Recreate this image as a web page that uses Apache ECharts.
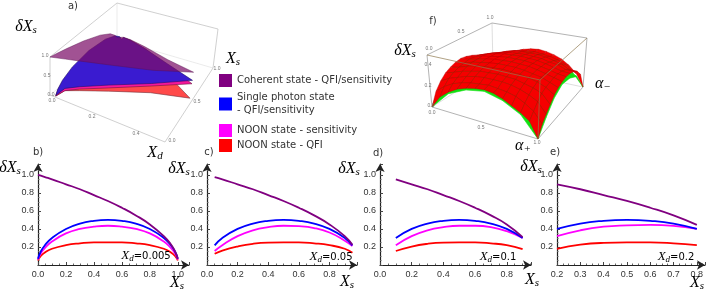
<!DOCTYPE html>
<html><head><meta charset="utf-8"><style>html,body{margin:0;padding:0;background:#fff}#c{width:708px;height:293px}</style>
<script src="https://cdn.jsdelivr.net/npm/echarts@6/dist/echarts.min.js"></script></head>
<body><div id="c"></div><script>
// ---------- panel b-e curves ----------
const names=['Coherent state - QFI/sensitivity','Single photon state\n- QFI/sensitivity','NOON state - sensitivity','NOON state - QFI'];
const colors=['#800080','#0000ff','#ff00ff','#ff0000'];
const bX=[0,.02,.05,.1,.2,.3,.4,.5,.6,.7,.8,.9,.95,.98,1];
const bCoherent=[1,.99,.975,.95,.895,.84,.775,.71,.635,.55,.45,.32,.23,.15,.07];
const bSingle=[.07,.15,.22,.3,.4,.46,.49,.5,.49,.46,.4,.3,.22,.15,.07];
const bNoonS=[.06,.13,.19,.26,.35,.4,.425,.435,.425,.4,.35,.26,.19,.13,.06];
const bNoonQ=[.05,.1,.14,.18,.22,.24,.25,.25,.25,.24,.22,.18,.14,.1,.05];
const cX=[.05,.1,.2,.3,.4,.5,.6,.7,.8,.9,.95];
const cCoherent=[.975,.95,.895,.84,.775,.71,.635,.55,.45,.32,.225];
const cSingle=[.218,.3,.4,.46,.49,.5,.49,.46,.4,.3,.218];
const cNoonS=[.155,.22,.32,.385,.42,.435,.43,.41,.36,.27,.21];
const cNoonQ=[.125,.16,.205,.235,.248,.25,.25,.24,.22,.18,.135];
const dX=[.1,.2,.3,.4,.5,.6,.7,.8,.9];
const dCoherent=[.95,.895,.84,.775,.71,.635,.55,.45,.31];
const dSingle=[.3,.4,.46,.49,.5,.49,.46,.4,.3];
const dNoonS=[.22,.32,.385,.42,.435,.435,.42,.375,.3];
const dNoonQ=[.155,.205,.235,.248,.25,.25,.24,.22,.175];
const eX=[.2,.3,.4,.5,.6,.7,.8];
const eCoherent=[.895,.84,.775,.71,.635,.55,.445];
const eSingle=[.4,.46,.49,.5,.49,.46,.4];
const eNoonS=[.32,.385,.425,.44,.445,.435,.4];
const eNoonQ=[.18,.225,.245,.25,.25,.24,.22];
const yTicks=[.2,.4,.6,.8,1];
const xTicksB=[0,.2,.4,.6,.8,1];
const xTicksC=[0,.2,.4,.6,.8];
const xTicksE=[.2,.3,.4,.5,.6,.7,.8];
// ---------- panel a surface edges: along Xd=0 (by Xs), along the low and high Xs borders (by Xd) ----------
const aXs=[0,.03,.1,.25,.5,.75,.9,.97,1];
const aXd=[0,.05,.1,.2,.35,.5];
const archCoherent=[1,.985,.95,.866,.707,.5,.316,.17,.07];
const lowCoherent=[1,.975,.949,.894,.806,.77];
const highCoherent=[.07,.224,.316,.447,.592,.77];
const archSingle=[.05,.17,.3,.433,.5,.433,.3,.17,.05];
const lowSingle=[.05,.218,.3,.4,.49,.58];
const highSingle=[.05,.218,.3,.4,.49,.58];
const archNoonS=[.04,.15,.26,.375,.435,.375,.26,.15,.04];
const lowNoonS=[.04,.16,.24,.33,.43,.5];
const highNoonS=[.04,.21,.3,.4,.46,.5];
const archNoonQ=[.03,.12,.18,.225,.25,.225,.18,.12,.03];
const lowNoonQ=[.03,.16,.2,.25,.27,.16];
const highNoonQ=[.03,.135,.175,.22,.25,.16];
// ---------- panel f surfaces (rows alpha+, columns alpha-) ----------
const fRed=[
[0,.12,.19,.24,.27,.29,.30,.29,.27,.24,.19,.12,0],
[.12,.19,.24,.27,.29,.30,.31,.30,.29,.27,.24,.19,.12],
[.19,.24,.27,.30,.32,.33,.33,.33,.32,.30,.27,.24,.19],
[.24,.27,.30,.32,.34,.345,.35,.345,.34,.32,.30,.27,.24],
[.27,.29,.32,.34,.355,.36,.365,.36,.355,.34,.32,.29,.27],
[.29,.30,.33,.345,.36,.37,.37,.37,.36,.345,.33,.30,.29],
[.30,.31,.33,.35,.365,.37,.375,.37,.365,.35,.33,.31,.30],
[.29,.30,.33,.345,.36,.37,.37,.37,.36,.345,.33,.30,.29],
[.26,.29,.32,.34,.355,.36,.365,.36,.355,.34,.32,.29,.27],
[.22,.27,.30,.32,.34,.345,.35,.345,.34,.32,.30,.27,.24],
[.18,.23,.27,.30,.32,.33,.33,.33,.32,.31,.28,.24,.19],
[.13,.18,.23,.27,.29,.30,.31,.31,.30,.28,.24,.19,.12],
[0,.09,.14,.19,.24,.27,.29,.30,.295,.275,.24,.17,0]];
const fGreen=[
[0,.17,.25,.28,.25,.17,0],
[.175,.25,.30,.31,.30,.25,.17],
[.255,.30,.33,.34,.33,.30,.25],
[.285,.31,.34,.35,.34,.31,.28],
[.245,.30,.33,.34,.33,.30,.25],
[.165,.25,.30,.31,.30,.25,.17],
[0,.11,.21,.265,.25,.19,0]];
// ---------- text ----------
const legendTops=[74,91,124,139];
const panelLetters=[['a)',73,6],['b)',38,152],['c)',209,152],['d)',378,153],['e)',555,152],['f)',433,21]];
const dLabels=[[26,27],[10,168],[179,169],[349,169],[531,167]];
const xsLabels=[[233,59],[177,283],[347,282],[532,280],[697,283]];
const xdPanels=[[146,256,'0.005'],[331,257,'0.05'],[498,257,'0.1'],[676,257,'0.2']];
const tiny=[['1.0',45,56],['0.5',47,76],['0.0',51,95],['0.0',52,101],['0.2',92,117],['0.4',136,134],['0.0',172,141],['0.5',197,102],['1.0',217,69],
['0.0',431,106],['0.2',428,86],['0.4',428,65],['0.0',432,113],['0.5',481,128],['1.0',537,143],['0.0',429,49],['0.5',461,32],['1.0',490,18]];

// 3D box helper: corners are [floorL,floorF,floorB,floorR,topL,topF,topB,topR]
const boxA=[[50,95],[165,142],[117,40],[213,68],[50,57],[172,96],[117,3],[218,29]];
const boxF=[[432,107],[538,139],[493,68],[583,87],[427,55],[540,80],[492,23],[587,38]];
function proj(B,u,v,w){
  const out=[0,1].map(k=>{
    const f=(1-u)*(1-v)*B[0][k]+u*(1-v)*B[1][k]+(1-u)*v*B[2][k]+u*v*B[3][k];
    const t=(1-u)*(1-v)*B[4][k]+u*(1-v)*B[5][k]+(1-u)*v*B[6][k]+u*v*B[7][k];
    return f+(t-f)*w;});
  return out;
}
function outline(arch,low,high,u0){
  const pts=[];
  aXs.forEach((s,i)=>pts.push(proj(boxA,u0,s,arch[i])));
  for(let i=1;i<aXd.length;i++)pts.push(proj(boxA,aXd[i]/.5,1-aXd[i],high[i]));
  for(let i=aXd.length-2;i>=1;i--)pts.push(proj(boxA,aXd[i]/.5,aXd[i],low[i]));
  return pts;
}
function surface(arch,low,high,fill,op,stroke,u0){
  return {type:'custom',xAxisIndex:4,yAxisIndex:4,silent:true,z:5,data:[[0]],clip:false,
    renderItem:(p,api)=>({type:'polygon',shape:{points:outline(arch,low,high,u0).map(q=>api.coord(q))},
      style:{fill:fill,opacity:op,stroke:stroke,lineWidth:.6}})};
}
function boxLines(B,edges,color,width,z){
  return {type:'custom',xAxisIndex:4,yAxisIndex:4,silent:true,z:z,data:edges,clip:false,
    renderItem:(p,api)=>{const a=B[api.value(0)],b=B[api.value(1)],s=api.coord(a),e=api.coord(b);
      return {type:'line',shape:{x1:s[0],y1:s[1],x2:e[0],y2:e[1]},style:{stroke:color,lineWidth:width}};}};
}
function mesh(table,fill,stroke,z){
  const n=table.length-1,cells=[];
  for(let a=0;a<n;a++)for(let b=n-1;b>=0;b--)cells.push([a,b]);
  return {type:'custom',xAxisIndex:4,yAxisIndex:4,silent:true,z:z,data:cells,clip:false,
    renderItem:(p,api)=>{const a=api.value(0),b=api.value(1);
      const P=(i,j)=>api.coord(proj(boxF,i/n,j/n,table[i][j]/.5));
      return {type:'polygon',shape:{points:[P(a,b),P(a+1,b),P(a+1,b+1),P(a,b+1)]},
        style:{fill:fill,stroke:stroke||fill,lineWidth:stroke?.4:.6}};}};
}
const panels=[
 {x:bX,v:[bCoherent,bSingle,bNoonS,bNoonQ],left:38,w:151,top:164,h:101,min:0,max:1.08,t:xTicksB,step:.2},
 {x:cX,v:[cCoherent,cSingle,cNoonS,cNoonQ],left:207,w:150,top:164,h:101,min:0,max:.98,t:xTicksC,step:.2},
 {x:dX,v:[dCoherent,dSingle,dNoonS,dNoonQ],left:380,w:151,top:164,h:101,min:0,max:.953,t:xTicksC,step:.2},
 {x:eX,v:[eCoherent,eSingle,eNoonS,eNoonQ],left:557,w:148,top:164,h:101,min:.2,max:.835,t:xTicksE,step:.1}];
const tick={color:'#333',fontFamily:'Liberation Sans',fontSize:9};
const grid=[],xAxis=[],yAxis=[],series=[];
panels.forEach((p,i)=>{
  grid.push({left:p.left,top:p.top,width:p.w,height:p.h});
  xAxis.push({type:'value',gridIndex:i,min:p.min,max:p.max,interval:p.step,splitLine:{show:false},
    axisLine:{symbol:['none','arrow'],symbolSize:[7,8],lineStyle:{color:'#222',width:1.2}},
    axisTick:{inside:true,length:3,lineStyle:{color:'#444'}},minorTick:{show:true,splitNumber:4,length:1.5,lineStyle:{color:'#666'}},
    axisLabel:Object.assign({customValues:p.t,margin:5,formatter:v=>v.toFixed(1)},tick)});
  yAxis.push({type:'value',gridIndex:i,min:0,max:1.12,interval:.2,splitLine:{show:false},
    axisLine:{symbol:['none','arrow'],symbolSize:[7,8],lineStyle:{color:'#222',width:1.2}},
    axisTick:{inside:true,length:3,lineStyle:{color:'#444'}},minorTick:{show:true,splitNumber:4,length:1.5,lineStyle:{color:'#666'}},
    axisLabel:Object.assign({customValues:yTicks,margin:4,formatter:v=>v.toFixed(1)},tick)});
  p.v.forEach((vals,k)=>series.push({type:'line',name:names[k],xAxisIndex:i,yAxisIndex:i,symbol:'none',smooth:.5,
    lineStyle:{color:colors[k],width:1.8},itemStyle:{color:colors[k]},data:p.x.map((x,j)=>[x,vals[j]]),z:6-k}));
});
grid.push({left:0,top:0,right:0,bottom:0});
xAxis.push({type:'value',gridIndex:4,min:0,max:708,show:false});
yAxis.push({type:'value',gridIndex:4,min:0,max:293,inverse:true,show:false});
// panel a
series.push(boxLines(boxA,[[2,6],[2,0],[2,3]],'#e2e2e2',.7,2));
series.push(boxLines(boxA,[[4,6],[6,7],[0,4],[3,7],[0,1],[1,3]],'#c4c4c4',.8,3));
series.push(surface(archNoonQ,lowNoonQ,highNoonQ,'#ff4a4a',1,'#70303a',.05));
series.push(surface(archNoonS,lowNoonS,highNoonS,'#f5179a',1,'#701040',.05));
series.push(surface(archSingle,lowSingle,highSingle,'#3a1bd0',1,'#20106a',.05));
series.push(surface(archCoherent,lowCoherent,highCoherent,'#7d0f6a',.72,'#5a1050',0));
// panel f
series.push(boxLines(boxF,[[2,6],[2,0],[2,3]],'#d0d0d0',.7,2));
series.push(boxLines(boxF,[[4,6],[6,7],[0,4],[3,7],[0,1],[1,3]],'#aaa',.9,3));
series.push(mesh(fGreen,'#10e010',null,4));
series.push(mesh(fRed,'#f50000','#b80000',5));
series.push(boxLines(boxF,[[4,5],[5,7],[5,1]],'#8f7a50',.7,6));

const sym={i:{fontFamily:'Liberation Serif',fontStyle:'italic',fontSize:16,color:'#111'},
  s:{fontFamily:'Liberation Serif',fontStyle:'italic',fontSize:11,color:'#111',padding:[7,0,0,0]},
  n:{fontFamily:'DejaVu Sans',fontSize:10,color:'#222'},
  si:{fontFamily:'Liberation Serif',fontStyle:'italic',fontSize:13,color:'#111'},
  ss:{fontFamily:'Liberation Serif',fontStyle:'italic',fontSize:9,color:'#111',padding:[5,0,0,0]}};
const txt=(x,y,text,extra)=>({type:'text',x:x,y:y,silent:true,z:20,style:Object.assign({text:text,align:'center',verticalAlign:'middle'},extra)});
const graphic=[];
panelLetters.forEach(l=>graphic.push(txt(l[1],l[2],l[0],{fontFamily:'DejaVu Sans',fontSize:10,fill:'#333'})));
dLabels.forEach(l=>graphic.push(txt(l[0],l[1],'{i|\u03b4X}{s|s}',{rich:sym})));
xsLabels.forEach(l=>graphic.push(txt(l[0],l[1],'{i|X}{s|s}',{rich:sym})));
graphic.push(txt(155,153,'{i|X}{s|d}',{rich:sym}));
graphic.push(txt(523,146,'{i|\u03b1}{s|+}',{rich:sym}));
graphic.push(txt(603,84,'{i|\u03b1}{s|\u2212}',{rich:sym}));
graphic.push(txt(405,51,'{i|\u03b4X}{s|s}',{rich:sym}));
xdPanels.forEach(l=>graphic.push(txt(l[0],l[1],'{si|X}{ss|d}{n|='+l[2]+'}',{rich:sym})));
tiny.forEach(l=>graphic.push(txt(l[1],l[2],l[0],{fontFamily:'Liberation Sans',fontSize:5,fill:'#777'})));

const legend=names.map((n,i)=>({data:[n],left:219,top:legendTops[i],padding:0,itemWidth:13,itemHeight:13,itemGap:3,icon:'rect',selectedMode:false,
  textStyle:{fontFamily:'DejaVu Sans',fontSize:10,color:'#333',lineHeight:13}}));
const chart=echarts.init(document.getElementById('c'),null,{renderer:'canvas'});
chart.setOption({animation:false,backgroundColor:'#fff',grid,xAxis,yAxis,series,legend,graphic});
</script></body></html>
